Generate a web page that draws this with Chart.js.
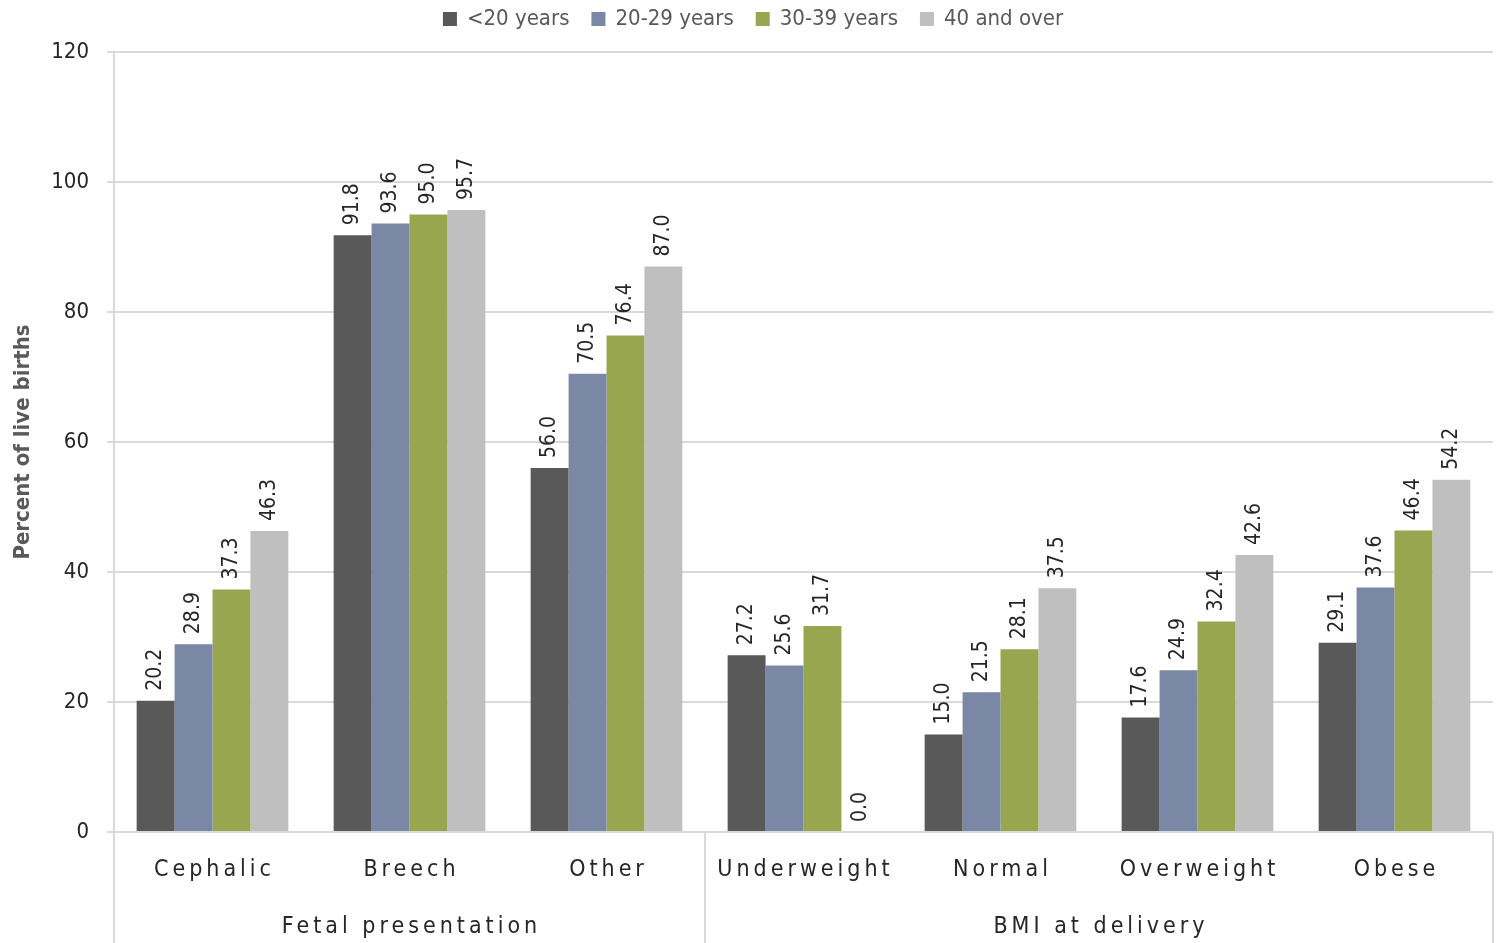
<!DOCTYPE html>
<html>
<head>
<meta charset="utf-8">
<script src="https://cdn.jsdelivr.net/npm/chart.js@4.4.1/dist/chart.umd.min.js"></script>
<style>
  html, body { margin: 0; padding: 0; background: #fff; }
  #wrap { width: 1497px; height: 943px; }
</style>
</head>
<body>
<div id="wrap"><canvas id="myChart" width="1497" height="943"></canvas></div>
<script>
const categories = ['Cephalic', 'Breech', 'Other', 'Underweight', 'Normal', 'Overweight', 'Obese'];
const groups = [
    { label: 'Fetal presentation', from: 0, to: 2 },
    { label: 'BMI at delivery', from: 3, to: 6 }
];
const under20 = [20.2, 91.8, 56.0, 27.2, 15.0, 17.6, 29.1];
const age20to29 = [28.9, 93.6, 70.5, 25.6, 21.5, 24.9, 37.6];
const age30to39 = [37.3, 95.0, 76.4, 31.7, 28.1, 32.4, 46.4];
const age40plus = [46.3, 95.7, 87.0, 0.0, 37.5, 42.6, 54.2];
const yTicks = [0, 20, 40, 60, 80, 100, 120];

const FONT = "'DejaVu Sans Condensed', 'Roboto', sans-serif";

// value labels above each bar, rotated
const barLabels = {
    id: 'barLabels',
    afterDatasetsDraw(chart) {
        const ctx = chart.ctx;
        ctx.save();
        ctx.font = '21px ' + FONT;
        ctx.fillStyle = '#262626';
        ctx.textAlign = 'left';
        ctx.textBaseline = 'middle';
        chart.data.datasets.forEach((ds, i) => {
            chart.getDatasetMeta(i).data.forEach((bar, j) => {
                ctx.save();
                ctx.translate(bar.x, bar.y - 10);
                ctx.rotate(-Math.PI / 2);
                ctx.fillText(ds.data[j].toFixed(1), 0, 0);
                ctx.restore();
            });
        });
        ctx.restore();
    }
};

// legend row at the top, spaced like the original
const topLegend = {
    id: 'topLegend',
    afterDraw(chart) {
        const ctx = chart.ctx;
        const sets = chart.data.datasets;
        ctx.save();
        ctx.font = '22px ' + FONT;
        ctx.textBaseline = 'middle';
        ctx.textAlign = 'left';
        const box = 14, gap = 10, between = 22;
        const widths = sets.map(ds => box + gap + ctx.measureText(ds.label).width);
        const total = widths.reduce((a, b) => a + b, 0) + between * (sets.length - 1);
        let x = 753 - total / 2;
        const y = 19;
        sets.forEach((ds, i) => {
            ctx.fillStyle = ds.backgroundColor;
            ctx.fillRect(x, y - box / 2, box, box);
            ctx.fillStyle = '#595959';
            ctx.fillText(ds.label, x + box + gap, y);
            x += widths[i] + between;
        });
        ctx.restore();
    }
};

// two-level category axis drawn under the plot
const groupAxis = {
    id: 'groupAxis',
    afterDraw(chart) {
        const ctx = chart.ctx;
        const x = chart.scales.x;
        const area = chart.chartArea;
        const step = (area.right - area.left) / categories.length;
        ctx.save();
        ctx.strokeStyle = '#d9d9d9';
        ctx.lineWidth = 2;
        const seps = [area.left, area.left + step * 3, area.right];
        seps.forEach(sx => {
            ctx.beginPath();
            ctx.moveTo(sx, area.bottom);
            ctx.lineTo(sx, chart.height);
            ctx.stroke();
        });
        ctx.fillStyle = '#262626';
        ctx.textAlign = 'center';
        ctx.textBaseline = 'middle';
        ctx.font = '23px ' + FONT;
        ctx.letterSpacing = '4px';
        categories.forEach((c, i) => {
            ctx.fillText(c, x.getPixelForValue(i) + 2, area.bottom + 38);
        });
        groups.forEach(g => {
            const cx = (x.getPixelForValue(g.from) + x.getPixelForValue(g.to)) / 2;
            ctx.fillText(g.label, cx + 2, area.bottom + 95);
        });
        ctx.restore();
    }
};

const data = {
    labels: categories,
    datasets: [
        { label: '<20 years', data: under20, backgroundColor: '#595959' },
        { label: '20-29 years', data: age20to29, backgroundColor: '#7b88a5' },
        { label: '30-39 years', data: age30to39, backgroundColor: '#98a650' },
        { label: '40 and over', data: age40plus, backgroundColor: '#bfbfbf' }
    ]
};

const config = {
    type: 'bar',
    data: data,
    options: {
        responsive: false,
        animation: false,
        layout: { padding: { left: 0, right: 4, top: 0, bottom: 103 } },
        datasets: { bar: { barPercentage: 1.0, categoryPercentage: 0.77 } },
        plugins: {
            legend: { display: false },
            tooltip: { enabled: false }
        },
        scales: {
            x: {
                grid: { display: false },
                border: { display: false },
                ticks: { display: false }
            },
            y: {
                min: 0,
                max: 120,
                afterBuildTicks(scale) {
                    scale.ticks = yTicks.map(v => ({ value: v }));
                },
                afterFit(scale) {
                    scale.width = 114;
                    scale.paddingTop = 52;
                },
                grid: { color: '#d9d9d9', lineWidth: 2, tickLength: 7 },
                border: { color: '#d9d9d9', width: 2 },
                ticks: {
                    color: '#262626',
                    padding: 18,
                    font: { family: FONT, size: 22 }
                },
                title: {
                    display: true,
                    text: 'Percent of live births',
                    color: '#595959',
                    padding: { top: 10, bottom: 0 },
                    font: { family: FONT, size: 22, weight: 'bold' }
                }
            }
        }
    },
    plugins: [barLabels, topLegend, groupAxis]
};

var ctx = document.getElementById('myChart').getContext('2d');
var myChart = new Chart(ctx, config);
</script>
</body>
</html>
